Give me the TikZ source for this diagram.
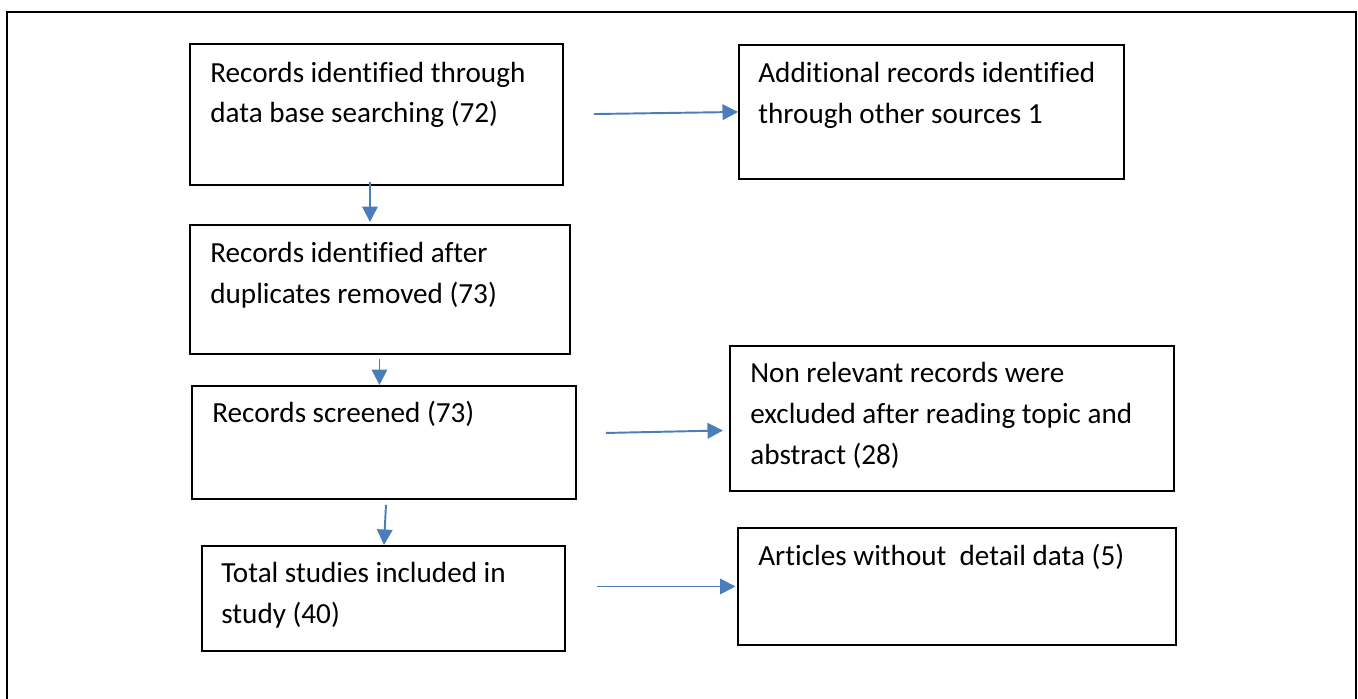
\documentclass[tikz,border=0pt]{standalone}
\usepackage{fontspec}
\setmainfont{Carlito}[Ligatures=NoCommon]
\usetikzlibrary{arrows.meta,calc}

\definecolor{flowblue}{HTML}{4A7EBB}

\tikzset{
  box/.style={draw, line width=1.1pt, anchor=north west, inner sep=0pt},
  boxtext/.style={anchor=base west, align=left, inner sep=0pt,
    font=\fontsize{16.6}{23.3}\selectfont},
  flow/.style={draw=flowblue, line width=1.1pt,
    -{Triangle[length=0.31cm,width=0.31cm]}}
}

\begin{document}
\begin{tikzpicture}[x=0.02cm,y=-0.02cm]
  \useasboundingbox (0,0) rectangle (1358,699);

  % Outer frame (open at the bottom)
  \draw[line width=1.1pt] (7,699) -- (7,12) -- (1356,12) -- (1356,699);

  % Left column boxes
  \node[box, minimum width=373*0.02cm, minimum height=141*0.02cm] (search) at (189,43) {};
  \node[box, minimum width=380*0.02cm, minimum height=129*0.02cm] (dup) at (189,224) {};
  \node[box, minimum width=384*0.02cm, minimum height=113*0.02cm] (screen) at (191,385) {};
  \node[box, minimum width=363*0.02cm, minimum height=105*0.02cm] (total) at (201,545) {};

  % Right column boxes
  \node[box, minimum width=385*0.02cm, minimum height=134*0.02cm] (other) at (738,44) {};
  \node[box, minimum width=444*0.02cm, minimum height=145*0.02cm] (nonrel) at (729,345) {};
  \node[box, minimum width=438*0.02cm, minimum height=117*0.02cm] (nodata) at (737,527) {};

  % Box texts (placed on the baseline of their last line)
  \node[boxtext] (searchtxt) at (210,123) {Records identified through\\data base searching (72)};
  \node[boxtext] (duptxt) at (210,303) {Records identified after\\duplicates removed (73)};
  \node[boxtext] (screentxt) at (212,422.7) {Records screened (73)};
  \node[boxtext] (totaltxt) at (221,623) {Total studies included in\\study (40)};
  \node[boxtext] (othertxt) at (758,123.5) {Additional records identified\\through other sources 1};
  \node[boxtext] (nonreltxt) at (750,464.7) {Non relevant records were\\excluded after reading topic and\\abstract (28)};
  \node[boxtext] (nodatatxt) at (758,565) {Articles without\ \ detail data (5)};

  % Arrows down the left column
  \draw[flow] ($(search.south)+(-6.5,-3.5)$) -- ($(dup.north)+(-10,-2)$);
  \draw[flow] ($(dup.south)+(-0.5,4)$) -- ($(screen.north)+(-4.5,0)$);
  \draw[flow] ($(screen.south)+(2,5)$) -- ($(total.north)+(0.5,0)$);

  % Arrows to the right column
  \draw[flow, shorten <=0.6cm] (search.east) -- (other.west);
  \draw[flow] ($(screen.east)+(29,-9.5)$) -- ($(nonrel.west)+(-6,12)$);
  \draw[flow] ($(total.east)+(31.5,-12)$) -- ($(nodata.west)+(-1.5,0)$);
\end{tikzpicture}
\end{document}
